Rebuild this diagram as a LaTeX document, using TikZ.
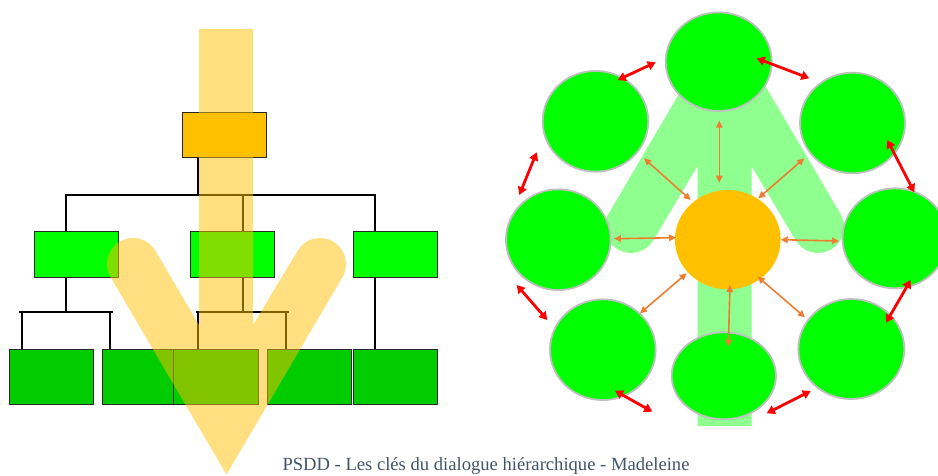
\documentclass[tikz,border=0pt]{standalone}
\usepackage{fontspec}
\setmainfont{Liberation Serif}
\usetikzlibrary{arrows.meta,shapes.geometric,calc}
\definecolor{orgorange}{HTML}{FFC000}
\definecolor{midgreen}{HTML}{00FF00}
\definecolor{lowgreen}{HTML}{00CC00}
\definecolor{ringgray}{HTML}{BFBFBF}
\definecolor{linkred}{HTML}{FF0000}
\definecolor{linkorange}{HTML}{ED7D31}
\definecolor{footer}{HTML}{44546A}
\begin{document}
\begin{tikzpicture}[x=1pt,y=1pt,
  box/.style={draw=black!85, line width=1pt, inner sep=0pt, minimum width=84pt},
  conn/.style={draw=black, line width=1.2pt},
  yellowarrow/.style={fill=orgorange, fill opacity=0.5},
  greenarrow/.style={fill=midgreen, fill opacity=0.44},
  circ/.style={ellipse, draw=ringgray, line width=1.8pt, fill=midgreen, inner sep=0pt},
  hub/.style={ellipse, fill=orgorange, inner sep=0pt},
  redlink/.style={draw=linkred, line width=2.8pt, {Triangle[length=8pt,width=9pt]}-{Triangle[length=8pt,width=9pt]}},
  orlink/.style={draw=linkorange, line width=1.6pt, {Triangle[length=7pt,width=6.5pt]}-{Triangle[length=7pt,width=6.5pt]}}
]
\useasboundingbox (0,0) rectangle (938,475);

% ---------------- left: hierarchy ----------------
\coordinate (bus1) at (198,280);
\coordinate (bus2) at (66,163);
\coordinate (bus3) at (243,163);

\node[box, fill=orgorange, minimum height=45pt] (top) at (224,339.5) {};
\node[box, fill=midgreen, minimum height=46pt] (m1) at (76,221) {};
\node[box, fill=midgreen, minimum height=46pt] (m2) at (232,221) {};
\node[box, fill=midgreen, minimum height=46pt] (m3) at (395,221) {};

\draw[conn] (top.south -| bus1) -- (bus1);
\draw[conn] ([xshift=-10pt]m1.north) |- ([xshift=-20pt]m3.north |- bus1) -- ([xshift=-20pt]m3.north);
\draw[conn] ([xshift=11pt]m2.north) -- ([xshift=11pt]m2.north |- bus1);

\node[box, fill=lowgreen, minimum height=55pt] (b1) at (51,98.5) {};
\node[box, fill=lowgreen, minimum height=55pt] (b2) at (144,98.5) {};
\node[box, fill=lowgreen, minimum height=55pt, minimum width=85pt] (b3) at (215.5,98.5) {};
\node[box, fill=lowgreen, minimum height=55pt] (b4) at (309,98.5) {};
\node[box, fill=lowgreen, minimum height=55pt] (b5) at (395,98.5) {};

\draw[conn] ([xshift=-10pt]m1.south) -- (bus2);
\draw[conn] ([xshift=-29pt]b1.north) |- ([xshift=-34pt]b2.north |- bus2) -- ([xshift=-34pt]b2.north);
\draw[conn] ([xshift=-32pt]b1.north |- bus2) -- ([xshift=-31pt]b2.north |- bus2);
\draw[conn] ([xshift=11pt]m2.south) -- (bus3);
\draw[conn] ([xshift=-17.5pt]b3.north) |- ([xshift=-23pt]b4.north |- bus3) -- ([xshift=-23pt]b4.north);
\draw[conn] ([xshift=-19.5pt]b3.north |- bus3) -- ([xshift=-20pt]b4.north |- bus3);
\draw[conn] ([xshift=-20pt]m3.south) -- ([xshift=-20pt]b5.north);

% translucent downward arrow
\fill[yellowarrow] (199,446) -- (253,446) -- (253,150) -- (297.6,224.2)
  arc[start angle=149.5, end angle=-30.5, radius=26pt] -- (226.5,0.5) -- (110.6,197.8)
  arc[start angle=210.5, end angle=30.5, radius=26pt] -- (199,150) -- cycle;

% ---------------- right: network ----------------
\fill[greenarrow] (697.5,49) -- (751.5,49) -- (751.5,309) -- (795.6,234.8)
  arc[start angle=210.5, end angle=390.5, radius=26pt] -- (724.5,458.6) -- (608.6,261.2)
  arc[start angle=149.5, end angle=329.5, radius=26pt] -- (697.5,309) -- cycle;

\node[circ, minimum width=106pt, minimum height=98.6pt] (ct) at (718.7,413.3) {};
\node[circ, minimum width=105.6pt, minimum height=100.7pt] (cul) at (595.5,353.7) {};
\node[circ, minimum width=105pt, minimum height=100.6pt] (cur) at (852.5,352) {};
\node[circ, minimum width=104.7pt, minimum height=100.7pt] (cl) at (558.3,235.3) {};
\node[circ, minimum width=105pt, minimum height=100pt] (cr) at (895,236.7) {};
\node[circ, minimum width=105.7pt, minimum height=100.7pt] (cll) at (602.8,125.3) {};
\node[circ, minimum width=104.3pt, minimum height=87pt] (cb) at (723.8,99.2) {};
\node[circ, minimum width=106pt, minimum height=100pt] (clr) at (851.3,126) {};
\node[hub, minimum width=105.7pt, minimum height=99.3pt] (hub) at (727.8,235.3) {};

% red links between neighbours
\coordinate (r1a) at (617.7,395);   \coordinate (r1b) at (655.7,412.7);
\coordinate (r2a) at (756.7,416.7); \coordinate (r2b) at (809.3,396.7);
\coordinate (r3a) at (887.3,335);   \coordinate (r3b) at (914.3,282.7);
\coordinate (r4a) at (910.7,195);   \coordinate (r4b) at (886,152.3);
\coordinate (r5a) at (810.7,84);    \coordinate (r5b) at (766.7,61.7);
\coordinate (r6a) at (652.3,63.3);  \coordinate (r6b) at (615,84.3);
\coordinate (r7a) at (547.3,155);   \coordinate (r7b) at (516.7,190);
\coordinate (r8a) at (519.3,280);   \coordinate (r8b) at (536.7,322.7);
\foreach \i in {1,...,8} {\draw[redlink] (r\i a) -- (r\i b);}

% orange links from the hub
\coordinate (o1a) at (719.3,354.3); \coordinate (o1b) at (719.3,292.3);
\coordinate (o2a) at (644,316.7);   \coordinate (o2b) at (690.7,275);
\coordinate (o3a) at (804.3,316.7); \coordinate (o3b) at (758.3,276.7);
\coordinate (o4a) at (614,236.3);   \coordinate (o4b) at (676,237.3);
\coordinate (o5a) at (780.7,235.3); \coordinate (o5b) at (839,234);
\coordinate (o6a) at (686.7,201.7); \coordinate (o6b) at (640,161.7);
\coordinate (o7a) at (730,190);     \coordinate (o7b) at (728.3,128.3);
\coordinate (o8a) at (757.7,198.3); \coordinate (o8b) at (805,157.7);
\foreach \i in {1,...,8} {\draw[orlink] (o\i a) -- (o\i b);}

% footer
\node[anchor=base, font=\fontsize{18.6pt}{22pt}\selectfont, text=footer] (ft) at (486,4.5)
  {PSDD - Les clés du dialogue hiérarchique - Madeleine};
\end{tikzpicture}
\end{document}
